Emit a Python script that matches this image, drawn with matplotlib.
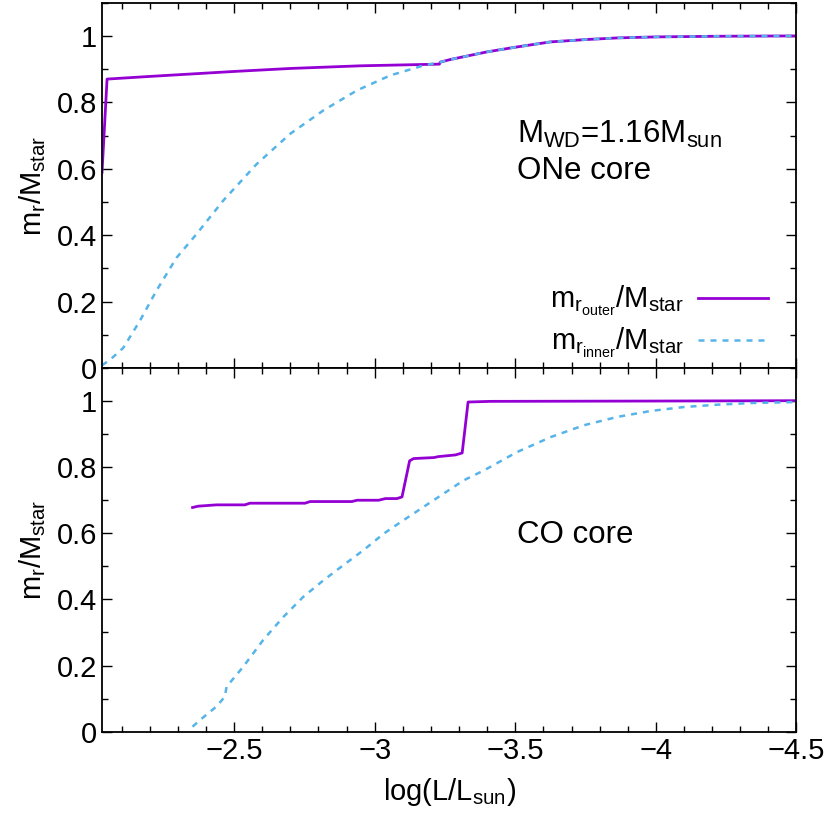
import numpy as np
import matplotlib.pyplot as plt
from matplotlib.ticker import MultipleLocator

plt.rcParams['font.family'] = ['Liberation Sans', 'DejaVu Sans']
plt.rcParams['mathtext.fontset'] = 'custom'
plt.rcParams['mathtext.rm'] = 'Liberation Sans'
plt.rcParams['mathtext.it'] = 'Liberation Sans'
plt.rcParams['font.size'] = 21

# ONe core (top panel)
one_outer_logL = [-2.03, -2.048, -2.2, -2.5, -2.7, -2.95, -3.23, -3.233, -3.269, -3.4, -3.5,
                  -3.625, -3.75, -3.863, -4.0, -4.22, -4.5]
one_outer_m = [0.589, 0.870, 0.878, 0.893, 0.902, 0.910, 0.915, 0.921, 0.929, 0.952, 0.966,
               0.982, 0.989, 0.994, 0.997, 0.999, 1.0]
one_inner_logL = [-2.03, -2.059, -2.105, -2.164, -2.223, -2.295, -2.366, -2.461, -2.58, -2.699,
                  -2.818, -2.937, -3.055, -3.174, -3.233, -3.269, -3.4, -3.5, -3.625, -3.75,
                  -3.863, -4.0, -4.22, -4.5]
one_inner_m = [0.008, 0.025, 0.060, 0.141, 0.232, 0.332, 0.403, 0.504, 0.614, 0.705,
               0.776, 0.836, 0.881, 0.911, 0.921, 0.929, 0.952, 0.966, 0.982, 0.989,
               0.994, 0.997, 0.999, 1.0]

# CO core (bottom panel)
co_outer_logL = [-2.352, -2.372, -2.437, -2.538, -2.556, -2.752, -2.77, -2.919, -2.937, -3.014,
                 -3.038, -3.079, -3.097, -3.124, -3.138, -3.21, -3.227, -3.287, -3.311, -3.332,
                 -3.411, -4.0, -4.5]
co_outer_m = [0.678, 0.682, 0.686, 0.686, 0.691, 0.691, 0.696, 0.696, 0.700, 0.700,
              0.705, 0.705, 0.710, 0.819, 0.826, 0.829, 0.832, 0.837, 0.843, 0.997,
              0.999, 1.0, 1.001]
co_inner_logL = [-2.352, -2.378, -2.437, -2.467, -2.473, -2.532, -2.603, -2.675, -2.746, -2.818,
                 -2.889, -2.96, -3.032, -3.103, -3.174, -3.245, -3.316, -3.388, -3.507, -3.626,
                 -3.745, -3.863, -3.982, -4.101, -4.22, -4.339, -4.5]
co_inner_m = [0.015, 0.035, 0.076, 0.106, 0.136, 0.196, 0.277, 0.347, 0.408, 0.458,
              0.504, 0.549, 0.599, 0.640, 0.680, 0.720, 0.760, 0.790, 0.846, 0.891,
              0.927, 0.952, 0.970, 0.982, 0.989, 0.994, 0.997]

PURPLE = '#9400d3'
BLUE = '#56b4e9'
DASH = (0, (2.4, 2.4))

fig = plt.figure(figsize=(8.3, 8.21), dpi=100)
ax1 = fig.add_axes([0.1229, 0.5518, 0.8367, 0.4449])
ax2 = fig.add_axes([0.1229, 0.1088, 0.8367, 0.4430], sharex=ax1)

ax1.plot(one_outer_logL, one_outer_m, color=PURPLE, lw=2.0, label=r'$\mathregular{m_{r_{outer}}/M_{star}}$')
ax1.plot(one_inner_logL, one_inner_m, color=BLUE, lw=1.8, ls=DASH, label=r'$\mathregular{m_{r_{inner}}/M_{star}}$')
ax2.plot(co_outer_logL, co_outer_m, color=PURPLE, lw=2.0)
ax2.plot(co_inner_logL, co_inner_m, color=BLUE, lw=1.8, ls=DASH)

for ax in (ax1, ax2):
    ax.set_xlim(-2.03, -4.5)
    ax.set_ylim(0, 1.1)
    ax.xaxis.set_major_locator(MultipleLocator(0.5))
    ax.xaxis.set_minor_locator(MultipleLocator(0.1))
    ax.yaxis.set_major_locator(MultipleLocator(0.2))
    ax.yaxis.set_minor_locator(MultipleLocator(0.1))
    ax.tick_params(which='both', direction='in', top=True, right=True, width=1.0)
    ax.tick_params(which='major', length=7)
    ax.tick_params(which='minor', length=4)
    ax.set_yticks([0, 0.2, 0.4, 0.6, 0.8, 1.0], ['0', '0.2', '0.4', '0.6', '0.8', '1'])
    for s in ax.spines.values():
        s.set_linewidth(1.3)
    ax.set_ylabel(r'$\mathregular{m_r/M_{star}}$', labelpad=6)

ax1.tick_params(labelbottom=False)
ax2.set_xticks([-2.5, -3, -3.5, -4, -4.5], ['\u22122.5', '\u22123', '\u22123.5', '\u22124', '\u22124.5'])
ax2.set_xlabel(r'$\mathregular{log(L/L_{sun})}$', labelpad=8)

ax1.text(0.597, 0.615, r'$\mathregular{M_{WD}}$=1.16$\mathregular{M_{sun}}$',
         transform=ax1.transAxes, ha='left', va='baseline', fontsize=22.5)
ax1.text(0.597, 0.518, 'ONe core', transform=ax1.transAxes, ha='left', va='baseline', fontsize=22.5)
ax2.text(0.597, 0.519, 'CO core', transform=ax2.transAxes, ha='left', va='baseline', fontsize=22.5)

ax1.legend(loc='lower right', frameon=False, markerfirst=False, handlelength=2.4,
           handletextpad=0.5, labelspacing=0.28, borderaxespad=0.0, bbox_to_anchor=(0.976, -0.011))

fig.savefig('out.png', dpi=100)
